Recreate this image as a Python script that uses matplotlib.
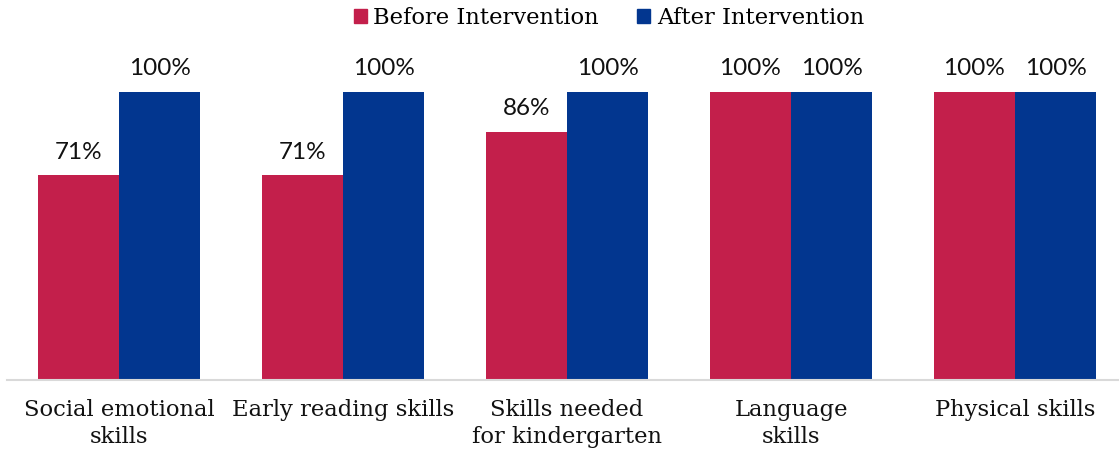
import matplotlib

matplotlib.use("Agg")
import matplotlib.pyplot as plt
import numpy as np
from matplotlib.patches import Patch

categories = ["Social emotional\nskills", "Early reading skills", "Skills needed\nfor kindergarten",
              "Language\nskills", "Physical skills"]
before = [71, 71, 86, 100, 100]
after = [100, 100, 100, 100, 100]
series = ["Before Intervention", "After Intervention"]

RED, BLUE = "#C31F4B", "#02368F"
W, H = 1120, 453

fig = plt.figure(figsize=(W / 100, H / 100), dpi=100)
ax = fig.add_axes([7 / W, (H - 380) / H, 1111 / W, 320 / H])

x = np.arange(len(categories))
bw = 0.362
ax.bar(x - bw / 2, before, bw, color=RED)
ax.bar(x + bw / 2, after, bw, color=BLUE)

for xi, b, a in zip(x, before, after):
    for off, v in ((-bw / 2, b), (bw / 2, a)):
        ax.text(xi + off, v + 4.5, f"{v}%", ha="center", va="bottom",
                fontsize=17.5, family="Lato", color="#111")

ax.set_xlim(-0.5, -0.5 + 1111 / 224)
ax.set_ylim(0, 111.1)
ax.set_yticks([])
ax.set_xticks(x)
ax.set_xticklabels(categories, family="DejaVu Serif", fontsize=16.3, color="#111", linespacing=1.25)
ax.tick_params(axis="x", length=0, pad=14)
for s in ("top", "right", "left"):
    ax.spines[s].set_visible(False)
ax.spines["bottom"].set_color("#d9d9d9")
ax.spines["bottom"].set_linewidth(1.5)

handles = [Patch(color=RED), Patch(color=BLUE)]
fig.legend(handles, series, loc="center", bbox_to_anchor=(609 / W, 1 - 18 / H), ncol=2,
           frameon=False, prop={"family": "DejaVu Serif", "size": 16.3},
           handlelength=0.55, handleheight=0.55, handletextpad=0.3, columnspacing=1.7)

fig.savefig("out.png", dpi=100)
